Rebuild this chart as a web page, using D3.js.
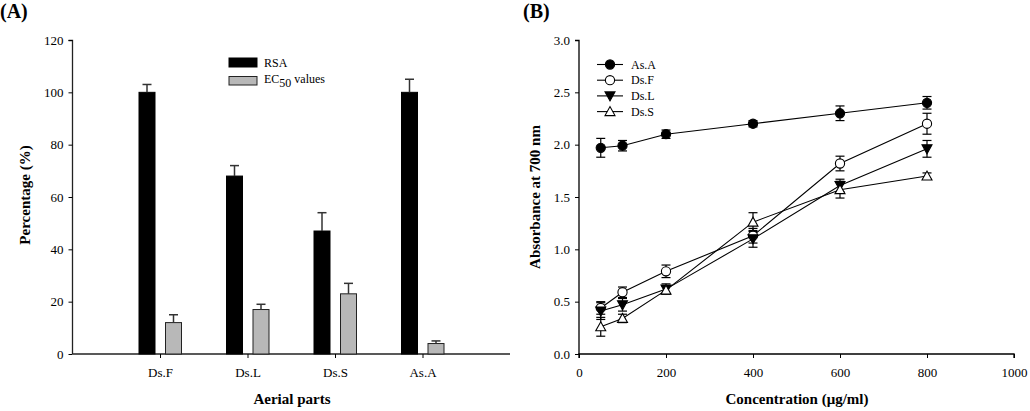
<!DOCTYPE html>
<html><head><meta charset="utf-8">
<script src="https://cdn.jsdelivr.net/npm/d3@7"></script>
<style>
body{margin:0;background:#fff;}
text{font-family:"Liberation Serif","Times New Roman",serif;fill:#000;}
</style></head>
<body>
<svg id="c" width="1030" height="411"></svg>
<script>
// Panel A data
const partsA = ["Ds.F","Ds.L","Ds.S","As.A"];
const rsaVals = [100,68,47,100];
const rsaErr = [3,4,7,5];
const ec50Vals = [12,17,23,4];
const ec50Err = [3,2,4,1];
const yTicksA = [0,20,40,60,80,100,120];

// Panel B data
const conc = [50,100,200,400,600,800];
const seriesNames = ["As.A","Ds.F","Ds.L","Ds.S"];
const asA = [1.97,1.99,2.10,2.20,2.30,2.40];
const asAErr = [0.09,0.05,0.04,0.03,0.07,0.06];
const dsF = [0.44,0.59,0.79,1.13,1.82,2.20];
const dsFErr = [0.06,0.05,0.06,0.07,0.07,0.10];
const dsL = [0.41,0.47,0.62,1.10,1.61,1.96];
const dsLErr = [0.08,0.06,0.05,0.08,0.06,0.08];
const dsS = [0.26,0.34,0.61,1.26,1.57,1.70];
const dsSErr = [0.09,0.04,0.04,0.09,0.08,0.03];
const xTicksB = [0,200,400,600,800,1000];
const yTicksB = [0,0.5,1.0,1.5,2.0,2.5,3.0];

const svg = d3.select("#c");

// ---------- Panel A ----------
const gA = svg.append("g");
const xA = d3.scaleLinear().domain([0,5]).range([72.5,510]);
const yA = d3.scaleLinear().domain([0,120]).range([354,40]);

gA.append("g").attr("transform","translate(72.5,0)")
  .call(d3.axisLeft(yA).tickValues(yTicksA).tickSize(4).tickPadding(5).tickFormat(d3.format("d")))
  .call(g=>{g.select(".domain").attr("stroke","#222").attr("stroke-width",1.3).attr("d","M-4,40.5H0V354");
    g.selectAll("text").attr("font-size",13).attr("font-family","Liberation Serif");});
gA.append("g").attr("transform","translate(0,354)")
  .call(d3.axisBottom(xA).tickValues([1,2,3,4]).tickSize(4).tickPadding(10).tickFormat((d,i)=>partsA[i]))
  .call(g=>{g.select(".domain").attr("stroke","#222").attr("stroke-width",1.3).attr("d","M72.5,0H510");
    g.selectAll("text").attr("font-size",13).attr("font-family","Liberation Serif");});

const bw = 16;
partsA.forEach((p,i)=>{
  const cx = xA(i+1);
  // RSA bar
  const x1 = cx-21, x2 = cx+5.5;
  gA.append("rect").attr("x",x1).attr("y",yA(rsaVals[i])).attr("width",bw).attr("height",yA(0)-yA(rsaVals[i]))
    .attr("fill","#000").attr("stroke","#000");
  gA.append("line").attr("x1",x1+bw/2).attr("x2",x1+bw/2).attr("y1",yA(rsaVals[i])).attr("y2",yA(rsaVals[i]+rsaErr[i])).attr("stroke","#333").attr("stroke-width",1.5);
  gA.append("line").attr("x1",x1+bw/2-4.5).attr("x2",x1+bw/2+4.5).attr("y1",yA(rsaVals[i]+rsaErr[i])).attr("y2",yA(rsaVals[i]+rsaErr[i])).attr("stroke","#333").attr("stroke-width",1.5);
  // EC50 bar
  gA.append("rect").attr("x",x2).attr("y",yA(ec50Vals[i])).attr("width",bw).attr("height",yA(0)-yA(ec50Vals[i]))
    .attr("fill","#b8b8b8").attr("stroke","#222").attr("stroke-width",1);
  gA.append("line").attr("x1",x2+bw/2).attr("x2",x2+bw/2).attr("y1",yA(ec50Vals[i])).attr("y2",yA(ec50Vals[i]+ec50Err[i])).attr("stroke","#333").attr("stroke-width",1.5);
  gA.append("line").attr("x1",x2+bw/2-4.5).attr("x2",x2+bw/2+4.5).attr("y1",yA(ec50Vals[i]+ec50Err[i])).attr("y2",yA(ec50Vals[i]+ec50Err[i])).attr("stroke","#333").attr("stroke-width",1.5);
});

// legend A
gA.append("rect").attr("x",229).attr("y",58).attr("width",28).attr("height",9).attr("fill","#000").attr("stroke","#000");
gA.append("text").attr("x",264).attr("y",67).attr("font-size",12).text("RSA");
gA.append("rect").attr("x",229).attr("y",76.5).attr("width",28).attr("height",8.5).attr("fill","#b8b8b8").attr("stroke","#222");
const ecT = gA.append("text").attr("x",264).attr("y",83).attr("font-size",12);
ecT.append("tspan").text("EC");
ecT.append("tspan").attr("dy",4).attr("font-size",12).text("50");
ecT.append("tspan").attr("dy",-4).text(" values");

gA.append("text").attr("x",0).attr("y",18).attr("font-size",20).attr("font-weight","bold").text("(A)");
gA.append("text").attr("transform","translate(30,195) rotate(-90)").attr("text-anchor","middle")
  .attr("font-size",15).attr("font-weight","bold").text("Percentage (%)");
gA.append("text").attr("x",292).attr("y",404).attr("text-anchor","middle")
  .attr("font-size",15).attr("font-weight","bold").text("Aerial parts");

// ---------- Panel B ----------
const gB = svg.append("g");
const xB = d3.scaleLinear().domain([0,1000]).range([579,1014]);
const yB = d3.scaleLinear().domain([0,3]).range([354,40]);

gB.append("g").attr("transform","translate(579,0)")
  .call(d3.axisLeft(yB).tickValues(yTicksB).tickSize(4).tickPadding(5).tickFormat(d3.format(".1f")))
  .call(g=>{g.select(".domain").attr("stroke","#000").attr("stroke-width",1.3).attr("d","M-4,40.5H0V354");
    g.selectAll("text").attr("font-size",13).attr("font-family","Liberation Serif");});
gB.append("g").attr("transform","translate(0,354)")
  .call(d3.axisBottom(xB).tickValues(xTicksB).tickSize(4).tickPadding(10).tickFormat(d3.format("d")))
  .call(g=>{g.select(".domain").attr("stroke","#000").attr("stroke-width",1.3).attr("d","M579,4V0H1014V4");
    g.selectAll("text").attr("font-size",13).attr("font-family","Liberation Serif");});

const seriesB = [
  {name:seriesNames[0], v:asA, e:asAErr, sym:"circle", fill:"#000"},
  {name:seriesNames[1], v:dsF, e:dsFErr, sym:"circle", fill:"#fff"},
  {name:seriesNames[2], v:dsL, e:dsLErr, sym:"tdown", fill:"#000"},
  {name:seriesNames[3], v:dsS, e:dsSErr, sym:"tup", fill:"#fff"}
];
function marker(g,x,y,s){
  if(s.sym==="circle"){
    g.append("circle").attr("cx",x).attr("cy",y).attr("r",4.6).attr("fill",s.fill).attr("stroke","#000").attr("stroke-width",1.1);
  } else if(s.sym==="tdown"){
    g.append("path").attr("d",`M${x-5},${y-4}L${x+5},${y-4}L${x},${y+5}Z`).attr("fill",s.fill).attr("stroke","#000").attr("stroke-width",1.1);
  } else {
    g.append("path").attr("d",`M${x-5},${y+4}L${x+5},${y+4}L${x},${y-5}Z`).attr("fill",s.fill).attr("stroke","#000").attr("stroke-width",1.1);
  }
}
const line = d3.line().x((d,i)=>xB(conc[i])).y(d=>yB(d));
seriesB.forEach(s=>{
  gB.append("path").attr("d",line(s.v)).attr("fill","none").attr("stroke","#000").attr("stroke-width",1.1);
});
seriesB.forEach(s=>{
  s.v.forEach((v,i)=>{
    const x = xB(conc[i]);
    const t = yB(v+s.e[i]), b = yB(v-s.e[i]);
    gB.append("line").attr("x1",x).attr("x2",x).attr("y1",t).attr("y2",b).attr("stroke","#000").attr("stroke-width",1.2);
    gB.append("line").attr("x1",x-4.5).attr("x2",x+4.5).attr("y1",t).attr("y2",t).attr("stroke","#000").attr("stroke-width",1.2);
    gB.append("line").attr("x1",x-4.5).attr("x2",x+4.5).attr("y1",b).attr("y2",b).attr("stroke","#000").attr("stroke-width",1.2);
  });
});
seriesB.forEach(s=>{ s.v.forEach((v,i)=>marker(gB,xB(conc[i]),yB(v),s)); });

// legend B
seriesB.forEach((s,i)=>{
  const y = 64.5 + i*15.7;
  gB.append("line").attr("x1",597).attr("x2",623).attr("y1",y).attr("y2",y).attr("stroke","#000").attr("stroke-width",1.1);
  marker(gB,610,y,s);
  gB.append("text").attr("x",631).attr("y",y+4).attr("font-size",12).text(s.name);
});

gB.append("text").attr("x",523).attr("y",18).attr("font-size",20).attr("font-weight","bold").text("(B)");
gB.append("text").attr("transform","translate(540,197) rotate(-90)").attr("text-anchor","middle")
  .attr("font-size",15).attr("font-weight","bold").text("Absorbance at 700 nm");
gB.append("text").attr("x",797).attr("y",404).attr("text-anchor","middle")
  .attr("font-size",15).attr("font-weight","bold").text("Concentration (μg/ml)");
</script>
</body></html>
